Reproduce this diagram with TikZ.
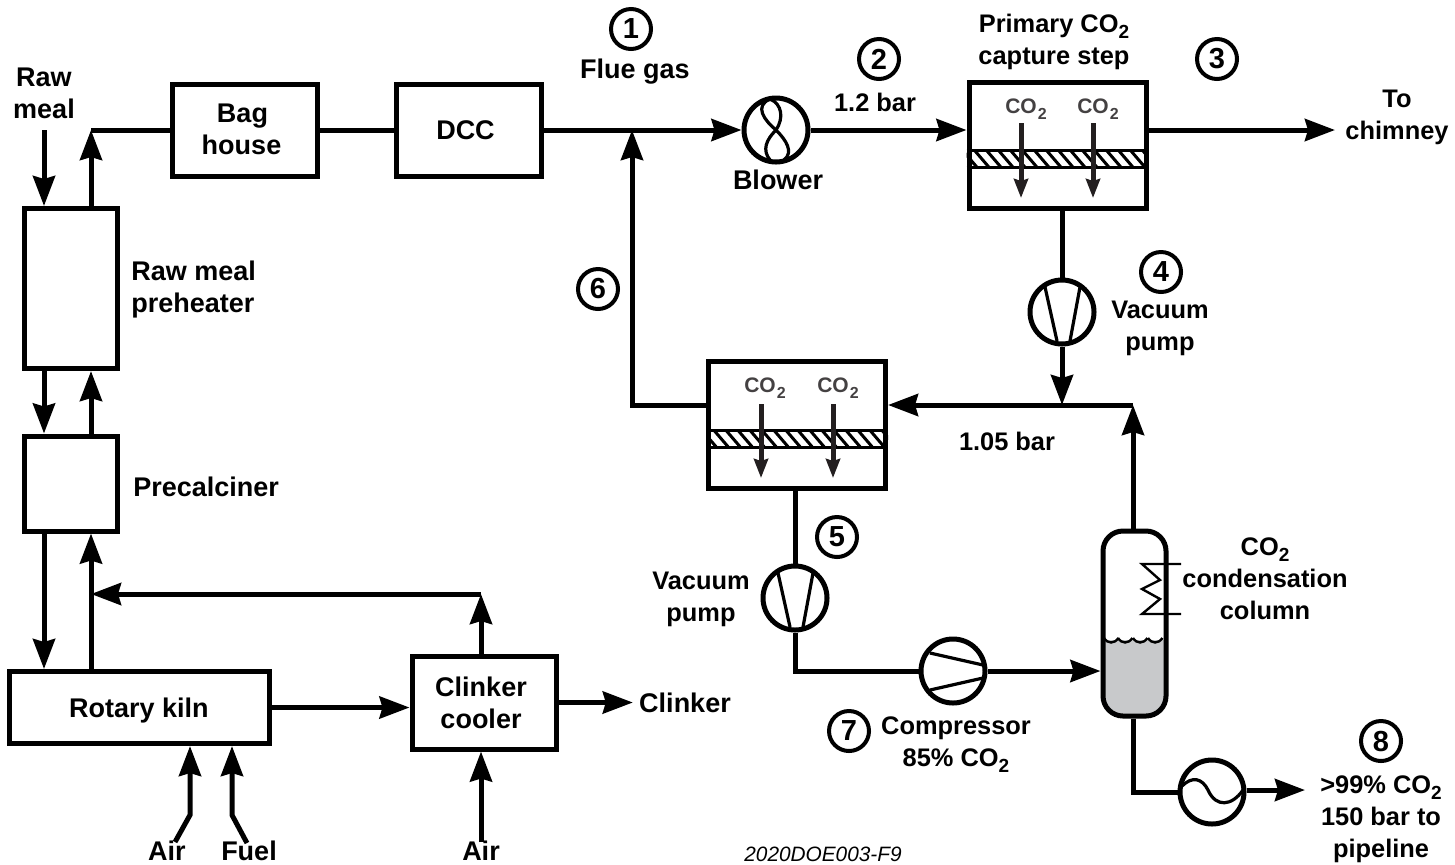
\documentclass[tikz,border=0pt]{standalone}
\usepackage{fontspec}
\setmainfont{Liberation Sans}
\usetikzlibrary{arrows.meta}
\newcommand{\cotwo}{CO\raisebox{-0.45ex}{\fontsize{9.5}{9.5}\selectfont 2}}
\newcommand{\cosmall}{CO\hspace{0.5pt}\raisebox{-0.5ex}{\fontsize{8}{8}\selectfont 2}}
\definecolor{liquidgray}{HTML}{C8C9CB}
\definecolor{fluxdark}{HTML}{231F20}
\newcommand{\lbfont}{\fontsize{13.5}{16}\selectfont\bfseries}
\newcommand{\lbrfont}{\fontsize{12.7}{16}\selectfont\bfseries}
\tikzset{
    flow/.style={line width=2.5pt, -{Stealth[length=15pt,width=11pt,inset=1.5pt]}},
    pipe/.style={line width=2.5pt},
    procbox/.style={draw, line width=2.5pt, align=center, inner sep=0pt, font=\lbfont},
    lbl/.style={align=center, inner sep=3pt, font=\lbfont},
    lblr/.style={align=center, inner sep=3pt, font=\lbrfont},
    machine/.style={draw, circle, line width=2.5pt, minimum size=32pt, inner sep=0pt},
    inner line/.style={line width=1.6pt},
    tag/.style={draw, circle, line width=2pt, minimum size=20pt, inner sep=0pt, font=\fontsize{14.5}{15}\selectfont\bfseries},
    smallco/.style={inner sep=0pt, text=fluxdark!85, font=\fontsize{10.5}{12}\selectfont\bfseries},
    flux/.style={line width=2.5pt, draw=fluxdark, fill=fluxdark, -{Stealth[length=9.5pt,width=7pt,inset=1pt]}},
}
\begin{document}
\begin{tikzpicture}[x=0.5pt, y=-0.5pt]
    \useasboundingbox (0,0) rectangle (1455,864);

    % Cement plant boxes
    \node[procbox, minimum width=72.5pt, minimum height=46pt] (baghouse) at (244.5,130) {\raisebox{1pt}{Bag}\hspace*{2pt}\\\raisebox{1pt}{house}\hspace*{3pt}};
    \node[procbox, minimum width=72.5pt, minimum height=46pt] (dcc) at (468.5,130) {DCC\hspace*{3pt}};
    \node[procbox, minimum width=46.5pt, minimum height=80pt] (preheater) at (70.5,288.5) {};
    \node[procbox, minimum width=46.5pt, minimum height=47.5pt] (precalciner) at (70.5,483.5) {};
    \node[procbox, minimum width=130pt, minimum height=36pt] (kiln) at (139,707.5) {\raisebox{-5pt}[0pt][0pt]{Rotary kiln}};
    \node[procbox, minimum width=72pt, minimum height=46.5pt] (cooler) at (484,702.5) {Clinker\hspace*{3pt}\\cooler\hspace*{3pt}};

    % Capture boxes
    \node[procbox, minimum width=88.5pt, minimum height=63pt] (capone) at (1057.5,145) {};
    \node[procbox, minimum width=88.5pt, minimum height=63.5pt] (captwo) at (797,424.5) {};

    % Rotating machines
    \node[machine] (blower) at (776,130) {};
    \node[machine] (pumpone) at (1062,312) {};
    \node[machine] (pumptwo) at (795,598) {};
    \node[machine] (compressor) at (953,671) {};
    \node[machine] (exchanger) at (1212,792) {};

    % Column: liquid first, outline on top
    \fill[liquidgray] (1104,640) -- (1104,697) .. controls (1104,708) and (1112,715) .. (1122,715)
        -- (1147,715) .. controls (1157,715) and (1165,708) .. (1165,697) -- (1165,640) -- cycle;
    \foreach \x in {1104,1118,1133,1148} {
        \draw[line width=1.2pt] (\x,638) .. controls (\x+4,644) and (\x+10,644) .. (\x+14.5,638);
    }
    \node[draw, line width=2.5pt, rounded corners=10pt, minimum width=31.5pt, minimum height=92.5pt] (column) at (1134.5,623.5) {};
    \draw[line width=1.2pt] (1181,564) -- (1142,564) -- (1160,580) -- (1142,589) -- (1160,599) -- (1142,614) -- (1181,614);

    % Free ends
    \coordinate (rawin) at (44,130);
    \coordinate (stack) at (91,130);
    \coordinate (recycle) at (632,130);
    \coordinate (returnend) at (91,594);
    \coordinate (chimney) at (1335,130);
    \coordinate (junction) at (1062,405);
    \coordinate (colltop) at (1133,405);
    \coordinate (airone) at (175,842);
    \coordinate (aironeb) at (190,815);
    \coordinate (fuelin) at (247,843);
    \coordinate (fuelb) at (232,815);
    \coordinate (airtwo) at (481,842);
    \coordinate (pipeout) at (1305,790);

    % Labels with connectors
    \node[lbl] (clinkertxt) at (685,702.5) {Clinker};

    % Plant connectors
    \draw[flow] (rawin) -- (rawin |- preheater.north);
    \draw[pipe] (baghouse.west) -- (stack);
    \draw[flow] (stack |- preheater.north) -- (stack);
    \draw[pipe] (baghouse.east) -- (dcc.west);
    \draw[flow] (dcc.east) -- (blower.west);
    \draw[flow] (rawin |- preheater.south) -- (rawin |- precalciner.north);
    \draw[flow] (stack |- precalciner.north) -- (stack |- preheater.south);
    \draw[flow] (rawin |- precalciner.south) -- (rawin |- kiln.north);
    \draw[flow] (stack |- kiln.north) -- (stack |- precalciner.south);
    \draw[flow] (kiln.east) -- (kiln.east -| cooler.west);
    \draw[flow] (cooler.east) -- (clinkertxt.west);
    \draw[flow] (airone) -- (aironeb) -- (aironeb |- kiln.south);
    \draw[flow] (fuelin) -- (fuelb) -- (fuelb |- kiln.south);
    \draw[flow] (airtwo) -- (airtwo |- cooler.south);
    \draw[flow] (airtwo |- cooler.north) -- (airtwo |- returnend);
    \draw[flow] (airtwo |- returnend) -- (returnend);

    % Capture connectors
    \draw[flow] (blower.east) -- (capone.west |- blower.east);
    \draw[flow] (capone.east |- chimney) -- (chimney);
    \draw[pipe] (capone.south -| pumpone.north) -- (pumpone.north);
    \draw[flow] (pumpone.south) -- (junction);
    \draw[flow] (colltop) -- (colltop -| captwo.east);
    \draw[flow] (column.north -| colltop) -- (colltop);
    \draw[flow] (captwo.west |- colltop) -- (recycle |- colltop) -- (recycle);
    \draw[pipe] (captwo.south -| pumptwo.north) -- (pumptwo.north);
    \draw[pipe] (pumptwo.south) -- (pumptwo.south |- compressor.west) -- (compressor.west);
    \draw[flow] (compressor.east) -- (column.west |- compressor.east);
    \draw[pipe] (column.south -| colltop) -- (colltop |- exchanger.west) -- (exchanger.west);
    \draw[flow] (exchanger.east |- pipeout) -- (pipeout);

    % Membrane bands and CO2 fluxes
    \foreach \bx/\by in {capone/150, captwo/430} {
        \begin{scope}
            \clip (\bx.west |- 0,\by) rectangle (\bx.east |- 0,\by+17);
            \foreach \i in {0,...,15} {
                \draw[line width=1.5pt] ([xshift=\i*6pt]\bx.west |- 0,\by) ++(-6,-2) -- ++(18,21);
            }
        \end{scope}
        \draw[line width=1.5pt] (\bx.west |- 0,\by) -- (\bx.east |- 0,\by);
        \draw[line width=1.5pt] (\bx.west |- 0,\by+17) -- (\bx.east |- 0,\by+17);
    }
    \foreach \x/\lx in {1021/1026, 1093/1098} {
        \node[smallco] (co\x) at (\lx,109) {\cosmall};
        \coordinate (fl\x) at (\x,198);
        \draw[flux] (\x,123) -- (fl\x);
    }
    \foreach \x/\lx in {761/765, 833/838} {
        \node[smallco] (co\x) at (\lx,388) {\cosmall};
        \coordinate (fl\x) at (\x,478);
        \draw[flux] (\x,404) -- (fl\x);
    }

    % Machine symbols
    \begin{scope}[shift={(blower.center)}]
        \draw[inner line] (-6,-31) .. controls (-22,-24) and (-12,-10) .. (0,0) .. controls (10,10) and (18,22) .. (8,30);
        \draw[inner line] (-6,-31) .. controls (6,-26) and (8,-12) .. (0,0) .. controls (-10,10) and (-14,20) .. (-6,30);
    \end{scope}
    \foreach \pump in {pumpone, pumptwo} {
        \draw[inner line] ([shift={(-17,-25)}]\pump.center) -- ([shift={(-5,29)}]\pump.center);
        \draw[inner line] ([shift={(18,-25)}]\pump.center) -- ([shift={(8,29)}]\pump.center);
    }
    \draw[inner line] ([shift={(-23,-18)}]compressor.center) -- ([shift={(30,-6)}]compressor.center);
    \draw[inner line] ([shift={(-23,19)}]compressor.center) -- ([shift={(30,7)}]compressor.center);
    \draw[inner line] (1182,786) .. controls (1192,776) and (1202,778) .. (1208,790)
        .. controls (1216,808) and (1232,806) .. (1243,790);

    % Numbered tags
    \foreach \n/\px/\py in {1/631/29, 2/879/59, 3/1217/59, 4/1161/272, 5/837/537, 6/598/289, 7/849/731, 8/1381/741} {
        \node[tag] (tag\n) at (\px,\py) {\n};
    }

    % Plain labels
    \node[lbl] (rawmeal) at (44,93) {Raw\\meal};
    \node[lbl] (fluegas) at (635,72) {Flue gas};
    \node[lbl] (blowertxt) at (778,180) {Blower};
    \node[lblr] (onetwo) at (875,102) {1.2 bar};
    \node[lblr] (primary) at (1054,42) {Primary \cotwo\\capture step};
    \node[lblr] (tochim) at (1397,117) {To\\chimney};
    \node[lblr] (vacone) at (1160,328) {Vacuum\\pump};
    \node[lbl, anchor=west, align=left] (preheattxt) at (125,290) {Raw meal\\preheater};
    \node[lbl, anchor=west] (precaltxt) at (127,487) {Precalciner};
    \node[lblr] (onezero) at (1007,441) {1.05 bar};
    \node[lblr] (vactwo) at (701,599) {Vacuum\\pump};
    \node[lblr] (condtxt) at (1265,579) {\cotwo\\condensation\\column};
    \node[lblr] (comptxt) at (956,745) {Compressor\\85\% \cotwo};
    \node[lblr] (purity) at (1381,819) {>99\% \cotwo\\150 bar to\\pipeline};
    \node[lbl] (aironetxt) at (167,851) {Air};
    \node[lbl] (fueltxt) at (249,851) {Fuel};
    \node[lbl] (airtwotxt) at (481,851) {Air};
    \node[inner sep=0pt, font=\fontsize{10.4}{12}\selectfont\itshape] (figid) at (823,854) {2020DOE003-F9};
\end{tikzpicture}
\end{document}
